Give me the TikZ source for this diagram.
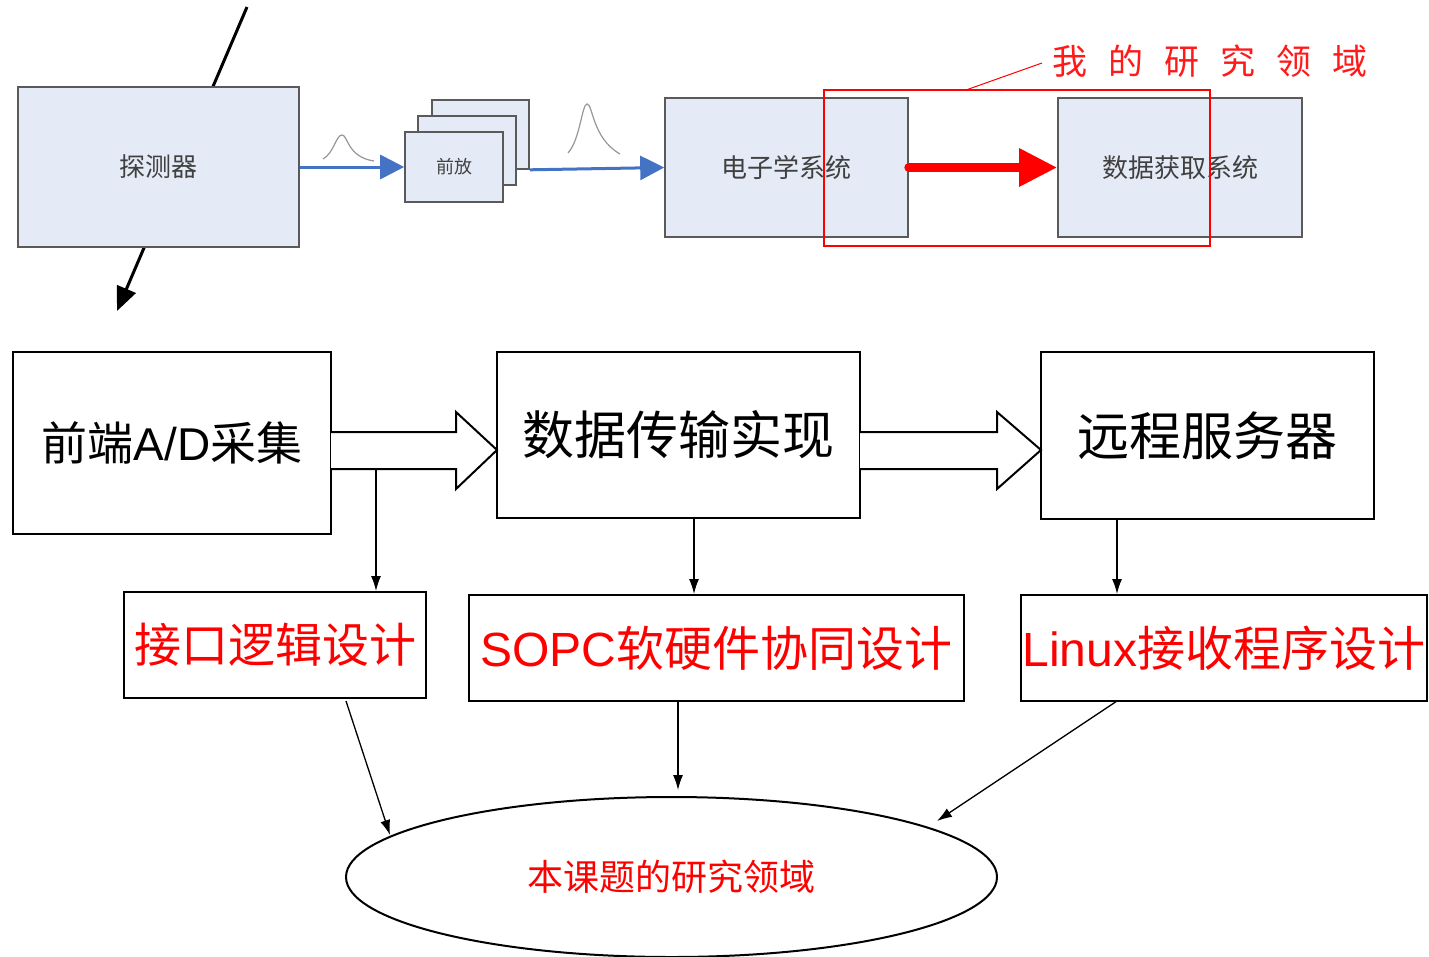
\documentclass[tikz,border=0pt]{standalone}
\usepackage{fontspec}
\setmainfont{Liberation Sans}
\newfontfamily\cjk{Noto Sans CJK SC}
\usetikzlibrary{arrows.meta,calc,shapes.geometric}

\definecolor{boxfill}{RGB}{229,235,246}
\definecolor{boxline}{RGB}{90,90,90}
\definecolor{boxtext}{RGB}{64,64,64}
\definecolor{sigblue}{RGB}{68,114,196}
\definecolor{pulsegray}{RGB}{150,150,150}

\newcommand{\fs}[1]{\fontsize{#1}{#1}\selectfont}

\begin{document}
\begin{tikzpicture}[x=1pt,y=-1pt,
  topbox/.style={draw=boxline, fill=boxfill, line width=1.6pt, inner sep=0pt,
                 text=boxtext, font=\cjk\fs{26}},
  blockbox/.style={draw=black, line width=2pt, fill=white, inner sep=0pt},
  flow/.style={draw=black, line width=1.3pt, -{Latex[length=15pt,width=10pt]}},
  sig/.style={draw=sigblue, line width=3pt, -{Triangle[length=24pt,width=24pt]}},
  pulse/.style={draw=pulsegray, line width=1.2pt},
  hollow/.style={draw=black, line width=2pt, fill=white, line join=miter}
]
\useasboundingbox (0,0) rectangle (1429,956);

% ---------------- detector chain ----------------
\coordinate (pin) at (247,7);
\coordinate (pout) at (117,311);
\draw[line width=3pt, -{Triangle[length=24pt,width=20pt]}] (pin) -- (pout);

\node[topbox, minimum width=281pt, minimum height=160pt] (det) at (158.5,167) {探测器};

% stacked preamplifier cards
\node[topbox, minimum width=97pt, minimum height=69pt] (pb) at (480.5,134.5) {};
\node[topbox, minimum width=98pt, minimum height=69pt] (pm) at (467,150.5) {};
\node[topbox, minimum width=98pt, minimum height=70pt, font=\cjk\fs{18}] (pf) at (454,167) {前放};

\node[topbox, minimum width=243pt, minimum height=139pt] (elec) at (786.5,167.5) {电子学系统};
\node[topbox, minimum width=244pt, minimum height=139pt] (daq) at (1180,167.5) {数据获取系统};

\draw[sig] (det.east) -- (pf.west);
\draw[sig] (pb.south east) -- (elec.west);

% signal pulses
\draw[pulse] (323,159) .. controls (334,153) and (336,135) .. (342,135)
             .. controls (348,135) and (347,157) .. (374,161);
\draw[pulse] (568,153) .. controls (580,140) and (582,104) .. (587,104)
             .. controls (593,104) and (592,138) .. (620,154);

\draw[red, line width=9pt, line cap=round, -{Triangle[length=38pt,width=36pt]}]
  (elec.east) -- (daq.west);

% highlighted area
\draw[red, line width=1.2pt] (824,90) rectangle (1210,246);
\coordinate (lblfoot) at (966,90);
\coordinate (lblhead) at (1042,63);
\draw[red, line width=1pt] (lblfoot) -- (lblhead);
\node[anchor=west, text=red!90, font=\cjk\fs{35}, inner sep=0pt] (lbl) at (1052,61)
  {我\hspace{21pt}的\hspace{21pt}研\hspace{21pt}究\hspace{21pt}领\hspace{21pt}域};

% ---------------- system blocks ----------------
\node[blockbox, minimum width=318pt, minimum height=182pt] (fe) at (172,443)
  {\fs{46}{\cjk 前端}A/D{\cjk 采集}};
\node[blockbox, minimum width=363pt, minimum height=166pt, font=\cjk\fs{52}] (dt) at (678.5,435) {数据传输实现};
\node[blockbox, minimum width=333pt, minimum height=167pt, font=\cjk\fs{52}] (rs) at (1207.5,435.5) {远程服务器};

% hollow block arrows between the blocks
\draw[hollow] (331,432) -- (456,432) -- (456,412) -- (497,450) -- (456,489) -- (456,469) -- (331,469);
\draw[hollow] (860,432) -- (997,432) -- (997,412) -- (1041,450) -- (997,489) -- (997,469) -- (860,469);

% design tasks
\node[blockbox, minimum width=302pt, minimum height=106pt, text=red, font=\cjk\fs{47}] (ifc) at (275,645) {接口逻辑设计};
\node[blockbox, minimum width=495pt, minimum height=106pt, text=red] (sopc) at (716.5,648)
  {\fs{48}SOPC{\cjk 软硬件协同设计}};
\node[blockbox, minimum width=406pt, minimum height=106pt, text=red] (lin) at (1224,648)
  {\fs{48}Linux{\cjk 接收程序设计}};

\coordinate (tap) at (376,469);
\coordinate (dtout) at (694,518);
\coordinate (rsout) at (1117,519);
\draw[flow] (tap) -- (tap |- ifc.north);
\draw[flow] (dtout) -- (dtout |- sopc.north);
\draw[flow] (rsout) -- (rsout |- lin.north);

% research scope
\node[draw=black, line width=2pt, ellipse, minimum width=651pt, minimum height=160pt,
      inner sep=0pt, text=red, font=\cjk\fs{36}] (scope) at (671.5,877) {本课题的研究领域};

\coordinate (inL) at (390,835);
\coordinate (inM) at (678,790);
\coordinate (inR) at (937,821);
\coordinate (outL) at (346,701);
\coordinate (outR) at (1117,701);
\draw[flow] (outL) -- (inL);
\draw[flow] (inM |- sopc.south) -- (inM);
\draw[flow] (outR) -- (inR);
\end{tikzpicture}
\end{document}
